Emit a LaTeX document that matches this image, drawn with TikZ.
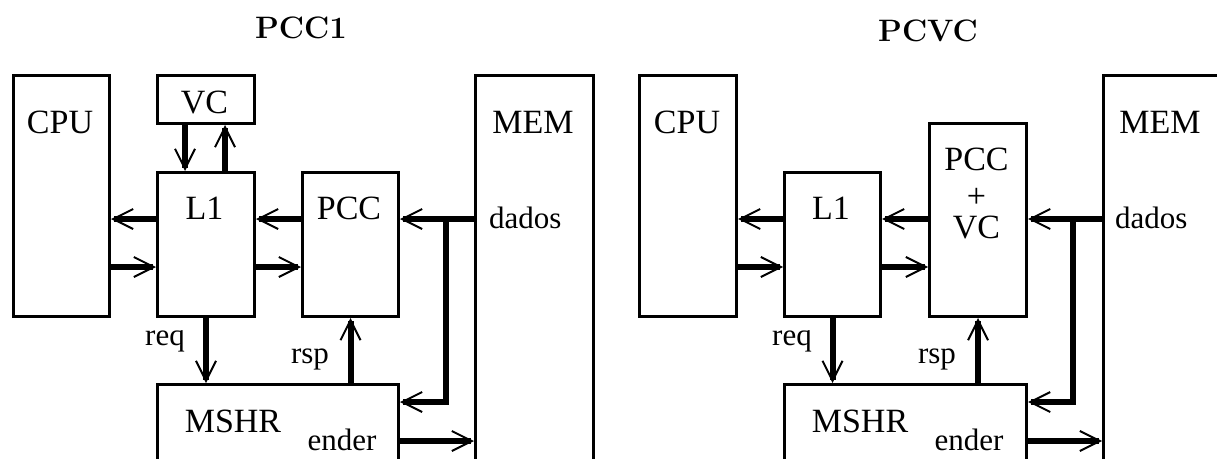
\documentclass[tikz,border=0pt]{standalone}
\usepackage{fontspec}
\newfontfamily\tms{Liberation Serif}
\usetikzlibrary{arrows.meta}
\begin{document}
\begin{tikzpicture}[x=1pt,y=-1pt,
  box/.style={draw,line width=3pt,rectangle,inner sep=0pt,anchor=north west},
  big/.style={inner sep=0pt,anchor=base,font=\tms\fontsize{34}{34}\selectfont},
  lbl/.style={inner sep=0pt,anchor=base,font=\tms\fontsize{31}{31}\selectfont},
  ttl/.style={inner sep=0pt,anchor=base,font=\bfseries\fontsize{31}{31}\selectfont},
  thk/.style={line width=6pt,
    -{Straight Barb[length=20pt 0,width=20pt 0,line width=2pt 0]}}]
\useasboundingbox (0,0) rectangle (1217,458);
\clip (0,0) rectangle (1217,458);
% ---------- left panel: PCC1 ----------
\node[ttl] (tA) at (301,38) {PCC1};
\node[box,minimum width=96pt,minimum height=241pt] (cpuA) at (12,74) {};
\node[box,minimum width=97pt,minimum height=48pt] (vcA) at (156,74) {};
\node[box,minimum width=97pt,minimum height=144pt] (l1A) at (156,171) {};
\node[box,minimum width=96pt,minimum height=144pt] (pccA) at (301,171) {};
\node[box,minimum width=118pt,minimum height=420pt] (memA) at (474,74) {};
\node[box,minimum width=241pt,minimum height=120pt] (mshrA) at (156,383) {};
\node[big] (cpuAt) at (60,133) {CPU};
\node[big] (vcAt) at (204.5,113) {VC};
\node[big] (l1At) at (204.5,219) {L1};
\node[big] (pccAt) at (349,219) {PCC};
\node[big] (memAt) at (533,133) {MEM};
\node[big] (mshrAt) at (233,432) {MSHR};
\node[lbl,anchor=base west] (dadosA) at (489,228) {dados};
\node[lbl] (reqA) at (165,345) {req};
\node[lbl] (rspA) at (310,363) {rsp};
\node[lbl] (enderA) at (342,450) {ender};
\draw[thk] (vcA.south -| 185,0) -- (l1A.north -| 185,0);
\draw[thk] (l1A.north -| 225,0) -- (vcA.south -| 225,0);
\draw[thk] (l1A.west |- 0,219) -- (cpuA.east |- 0,219);
\draw[thk] (cpuA.east |- 0,267) -- (l1A.west |- 0,267);
\draw[thk] (pccA.west |- 0,219) -- (l1A.east |- 0,219);
\draw[thk] (l1A.east |- 0,267) -- (pccA.west |- 0,267);
\draw[thk] (memA.west |- 0,219) -- (pccA.east |- 0,219);
\coordinate (jA) at (446,219);
\draw[thk] (jA) |- (mshrA.east |- 0,402);
\draw[thk] (mshrA.east |- 0,441) -- (memA.west |- 0,441);
\draw[thk] (l1A.south) -- (mshrA.north -| l1A.south);
\draw[thk] (mshrA.north -| pccA.south) -- (pccA.south);
% ---------- right panel: PCVC ----------
\begin{scope}[xshift=627pt]
\node[ttl] (tB) at (301,41) {PCVC};
\node[box,minimum width=97pt,minimum height=241pt] (cpuB) at (11,74) {};
\node[box,minimum width=96pt,minimum height=144pt] (l1B) at (156,171) {};
\node[box,minimum width=97pt,minimum height=193pt] (pccB) at (301,122) {};
\node[box,minimum width=116pt,minimum height=420pt] (memB) at (475,74) {};
\node[box,minimum width=242pt,minimum height=120pt] (mshrB) at (156,383) {};
\node[big] (cpuBt) at (60,133) {CPU};
\node[big] (l1Bt) at (204,219) {L1};
\node[big] (pccBt) at (349.5,170) {PCC};
\node[big] (plusBt) at (349.5,207) {+};
\node[big] (vcBt) at (349.5,238) {VC};
\node[big] (memBt) at (533,133) {MEM};
\node[big] (mshrBt) at (233,432) {MSHR};
\node[lbl,anchor=base west] (dadosB) at (488,228) {dados};
\node[lbl] (reqB) at (165,345) {req};
\node[lbl] (rspB) at (310,363) {rsp};
\node[lbl] (enderB) at (342,450) {ender};
\draw[thk] (l1B.west |- 0,219) -- (cpuB.east |- 0,219);
\draw[thk] (cpuB.east |- 0,267) -- (l1B.west |- 0,267);
\draw[thk] (pccB.west |- 0,219) -- (l1B.east |- 0,219);
\draw[thk] (l1B.east |- 0,267) -- (pccB.west |- 0,267);
\draw[thk] (memB.west |- 0,219) -- (pccB.east |- 0,219);
\coordinate (jB) at (446,219);
\draw[thk] (jB) |- (mshrB.east |- 0,402);
\draw[thk] (mshrB.east |- 0,441) -- (memB.west |- 0,441);
\draw[thk] (l1B.south) -- (mshrB.north -| l1B.south);
\draw[thk] (mshrB.north -| pccB.south) -- (pccB.south);
\end{scope}
\end{tikzpicture}
\end{document}
